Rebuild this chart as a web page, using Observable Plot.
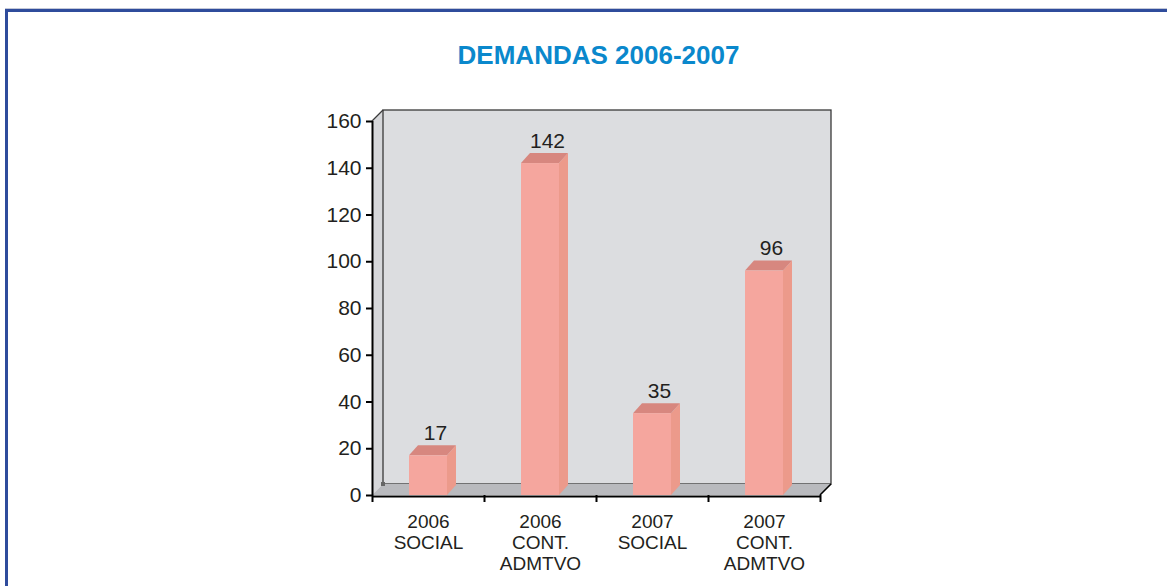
<!DOCTYPE html>
<html><head><meta charset="utf-8">
<script src="https://cdn.jsdelivr.net/npm/d3@7"></script>
<script src="https://cdn.jsdelivr.net/npm/@observablehq/plot@0.6"></script>
<style>
body{margin:0;background:#fff;}
#page{position:relative;width:1167px;height:586px;overflow:hidden;font-family:"Liberation Sans",Arial,sans-serif;}
#frame{position:absolute;left:5px;top:9px;width:1200px;height:620px;border:3px solid #2f4c9c;box-shadow:0 -1px 0 #c3c8d8;}
#title{position:absolute;left:0;top:42px;width:1197px;text-align:center;font-weight:bold;font-size:26px;line-height:26px;color:#0a88cc;}
#chart{position:absolute;left:0;top:80px;}
</style></head>
<body><div id="page"><div id="frame"></div><div id="title">DEMANDAS 2006-2007</div><div id="chart"></div></div>
<script>
// ---- data ----
const categories = ["2006\nSOCIAL", "2006\nCONT.\nADMTVO", "2007\nSOCIAL", "2007\nCONT.\nADMTVO"];
const values = [17, 142, 35, 96];
const yTicks = [0, 20, 40, 60, 80, 100, 120, 140, 160];
const yDomain = [0, 160];

const data = values.map((v, i) => ({i, cat: categories[i], value: v}));

// ---- styling ----
const WDX = 11, WDY = -11;   // wall depth (px)
const BDX = 9, BDY = -10;    // bar depth (px)
const BAR_L = 37, BAR_W = 38; // bar front face inside band (px)
const colors = {wall: "#dcdde0", side: "#d6d7da", floor: "#b9babe", edge: "#3a3a3a",
  front: "#f5a69e", barSide: "#ec9a8b", barTop: "#d7877f", text: "#231f20"};

function pts(a) { return a.map(p => p.join(",")).join(" "); }

// walls and floor drawn through the plot scales
function walls(index, scales) {
  const {x, y} = scales;
  const x0 = x(0), x1 = x(categories.length), y0 = y(yDomain[0]), y1 = y(yDomain[1]);
  const g = d3.create("svg:g");
  g.append("polygon").attr("points", pts([[x0, y0], [x0 + WDX, y0 + WDY], [x0 + WDX, y1 + WDY], [x0, y1]]))
    .attr("fill", colors.side).attr("stroke", "none");
  g.append("rect").attr("x", x0 + WDX).attr("y", y1 + WDY).attr("width", x1 - x0).attr("height", y0 - y1)
    .attr("fill", colors.wall).attr("stroke", colors.edge).attr("stroke-width", 1.3);
  g.append("polygon").attr("points", pts([[x0, y0], [x0 + WDX, y0 + WDY], [x1 + WDX, y0 + WDY], [x1, y0]]))
    .attr("fill", colors.floor).attr("stroke", "none");
  g.append("line").attr("x1", x0).attr("y1", y1).attr("x2", x0 + WDX).attr("y2", y1 + WDY)
    .attr("stroke", colors.edge).attr("stroke-width", 1.3);
  g.append("line").attr("x1", x1).attr("y1", y0).attr("x2", x1 + WDX).attr("y2", y0 + WDY)
    .attr("stroke", "#000").attr("stroke-width", 1.6);
  g.append("rect").attr("x", x0 + WDX - 2).attr("y", y0 + WDY - 2).attr("width", 4).attr("height", 4).attr("fill", "#666");
  return g.node();
}

// bar side and top faces drawn through the plot scales
function barFaces(index, scales) {
  const {x, y} = scales;
  const g = d3.create("svg:g");
  data.forEach(d => {
    const xl = x(d.i) + BAR_L, xr = xl + BAR_W, yt = y(d.value), yb = y(0);
    g.append("polygon").attr("points", pts([[xr, yb], [xr + BDX, yb + BDY], [xr + BDX, yt + BDY], [xr, yt]]))
      .attr("fill", colors.barSide);
    g.append("polygon").attr("points", pts([[xl, yt], [xl + BDX, yt + BDY], [xr + BDX, yt + BDY], [xr, yt]]))
      .attr("fill", colors.barTop);
  });
  return g.node();
}

const chart = Plot.plot({
  width: 1167,
  height: 506,
  marginLeft: 372,
  marginRight: 347,
  marginTop: 41,
  marginBottom: 91,
  style: {fontFamily: "'Liberation Sans', Arial, sans-serif", background: "transparent", overflow: "visible"},
  x: {domain: [0, categories.length], axis: null, label: null},
  y: {domain: yDomain, axis: null, label: null},
  marks: [
    walls,
    barFaces,
    Plot.rectY(data, {x1: d => d.i, x2: d => d.i + 1, y1: 0, y2: "value", insetLeft: BAR_L, insetRight: 112 - BAR_L - BAR_W, fill: colors.front}),
    Plot.ruleX([0], {y1: 0, y2: 160, stroke: "#000", strokeWidth: 2}),
    Plot.ruleY([0], {x1: 0, x2: categories.length, stroke: "#000", strokeWidth: 2, dy: 1}),
    Plot.axisY({ticks: yTicks, label: null, tickSize: 6, tickPadding: 5, fontSize: 21, fill: colors.text, stroke: "#000", strokeWidth: 2, tickFormat: d => String(d)}),
    Plot.axisX({ticks: d3.range(0, categories.length + 1), label: null, tickSize: 7, tickFormat: () => "", stroke: "#000", strokeWidth: 2}),
    Plot.axisX({ticks: categories.map((c, i) => i + 0.5), label: null, tickSize: 0, tickPadding: 18, fontSize: 19, lineHeight: 1.1, fill: colors.text, tickFormat: d => categories[Math.floor(d)]}),
    Plot.text(data, {x: d => d.i + 0.5, y: "value", text: d => String(d.value), dx: 7, dy: -16, lineAnchor: "bottom", fontSize: 21, fill: colors.text})
  ]
});
document.getElementById("chart").appendChild(chart);
</script>
</body></html>
